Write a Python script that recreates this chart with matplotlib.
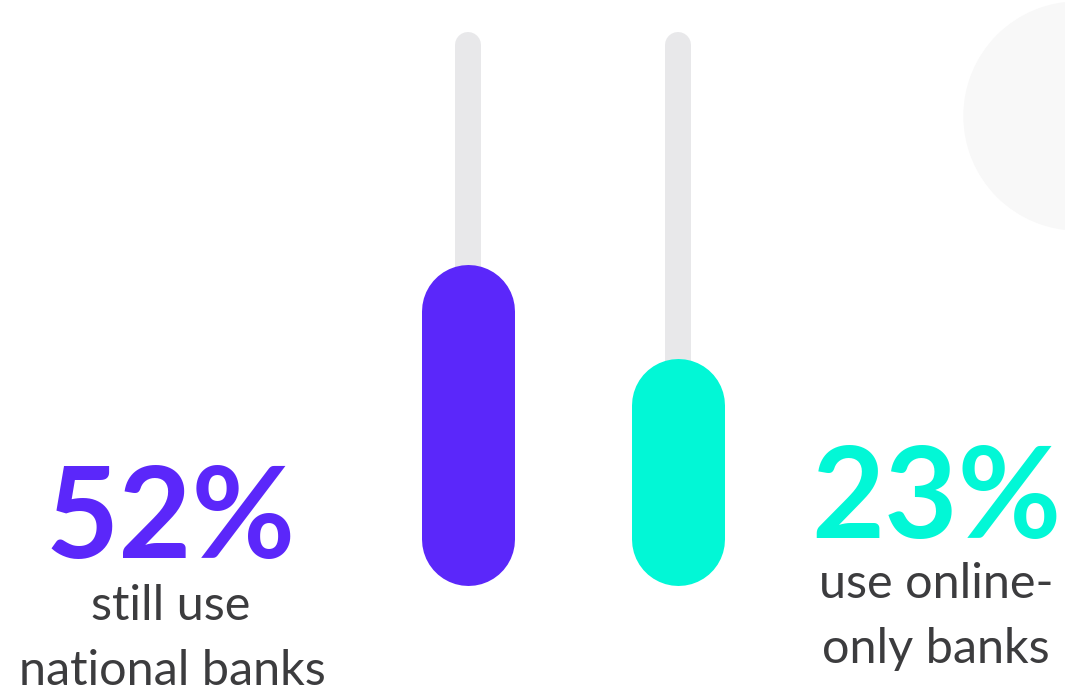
import matplotlib.pyplot as plt
from matplotlib.patches import Circle

# values shown as big labels
labels_pct = ["52%", "23%"]
# filled share of each track (percent of track length)
fill_level = [58, 41]
colors = ["#5b27fa", "#02f7d6"]
track_color = "#e8e8ea"
text_grey = "#3c3c3e"

fig = plt.figure(figsize=(10.65, 7), dpi=100)
ax = fig.add_axes([0, 0, 1, 1])
ax.set_xlim(0, 1065)
ax.set_ylim(0, 700)
ax.axis('off')

# background decoration circle, top right
ax.add_patch(Circle((1078, 584), 114, color="#f8f8f8", zorder=0))

track_bottom = 115
track_top = 668
track_len = track_top - track_bottom
centers = [468, 678]
bar_w = 93      # px
track_w = 26    # px
px2pt = 72 / 100

for cx, lvl, col in zip(centers, fill_level, colors):
    # grey track (round caps, so shorten by the cap radius)
    r = track_w / 2
    ax.plot([cx, cx], [track_bottom + r, track_top - r], color=track_color,
            lw=track_w * px2pt, solid_capstyle='round', zorder=1)
    # filled bar
    R = bar_w / 2
    h = track_len * lvl / 100
    ax.plot([cx, cx], [track_bottom + R, track_bottom + h - R], color=col,
            lw=bar_w * px2pt, solid_capstyle='round', zorder=2)

font = "Lato"
# left label
ax.text(171, 142, labels_pct[0], color=colors[0], fontsize=91, fontweight='bold',
        family=font, ha='center', va='baseline')
ax.text(171, 80, "still use", color=text_grey, fontsize=35, family=font,
        ha='center', va='baseline')
ax.text(172, 15, "national banks", color=text_grey, fontsize=35, family=font,
        ha='center', va='baseline')

# right label
ax.text(936, 162, labels_pct[1], color=colors[1], fontsize=91, fontweight='bold',
        family=font, ha='center', va='baseline')
ax.text(936, 102, "use online-", color=text_grey, fontsize=35, family=font,
        ha='center', va='baseline')
ax.text(936, 37, "only banks", color=text_grey, fontsize=35, family=font,
        ha='center', va='baseline')

fig.savefig("out.png", dpi=100, facecolor="white")
